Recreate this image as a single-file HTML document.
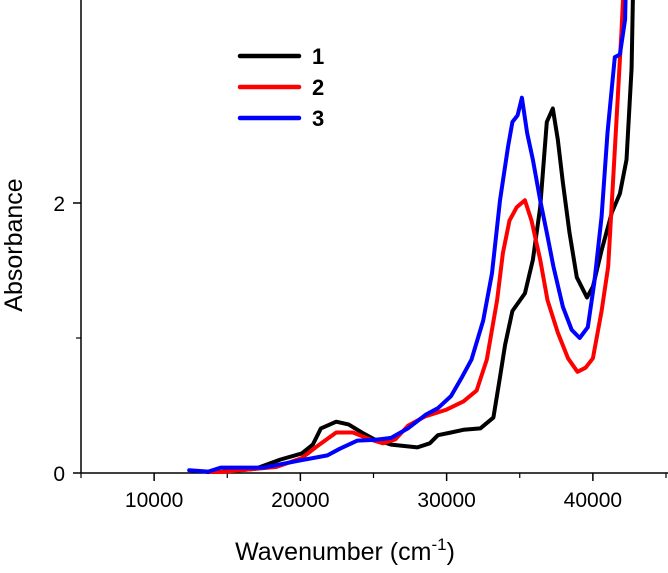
<!DOCTYPE html>
<html>
<head>
<meta charset="utf-8">
<style>
  html,body{margin:0;padding:0;background:#fff;}
  svg{display:block;font-family:"Liberation Sans",Arial,sans-serif;}
</style>
</head>
<body>
<svg id="chart" width="668" height="573" viewBox="0 0 668 573">
  <defs><clipPath id="plotclip"><rect x="81" y="0" width="587" height="474"/></clipPath></defs>
  <g id="axes"></g>
  <g id="series" clip-path="url(#plotclip)"></g>
  <g id="legend"></g>
  <text x="22" y="245" font-size="25" text-anchor="middle" transform="rotate(-90 22 245)">Absorbance</text>
  <text x="345" y="560" font-size="25" text-anchor="middle">Wavenumber (cm<tspan dy="-10" font-size="17">-1</tspan><tspan dy="10">)</tspan></text>
</svg>
<script>
const xTicks = [10000, 20000, 30000, 40000];
const xMinor = [5000, 15000, 25000, 35000, 45000];
const yTicks = [0, 2];
const yMinor = [1];
const seriesNames = ["1", "2", "3"];
const seriesColors = ["#000000", "#ff0000", "#0000ff"];
const wn1 = [13700,16900,18650,20100,20850,21400,22450,23300,24200,25050,26200,28000,28850,29400,30300,31150,32300,33200,33650,34000,34500,35350,35900,36400,36850,37260,37600,37950,38400,38900,39600,40000,40600,41300,41850,42300,42650,42750];
const abs1 = [0,0.03,0.1,0.145,0.21,0.33,0.38,0.36,0.3,0.25,0.21,0.19,0.22,0.28,0.3,0.32,0.33,0.41,0.71,0.95,1.2,1.33,1.58,1.97,2.6,2.7,2.47,2.15,1.78,1.45,1.3,1.38,1.65,1.93,2.07,2.32,3.0,3.6];
const wn2 = [13900,18370,20100,21300,22450,23600,24750,25650,26500,27350,28550,30000,31150,32050,32750,33450,33850,34300,34800,35350,35800,36400,36900,37600,38300,38950,39500,40000,40600,41050,41500,41950,42100];
const abs2 = [0,0.045,0.11,0.21,0.3,0.3,0.25,0.22,0.25,0.35,0.42,0.47,0.53,0.61,0.84,1.28,1.63,1.87,1.97,2.02,1.87,1.58,1.28,1.04,0.85,0.75,0.78,0.85,1.2,1.53,2.39,3.26,3.6];
const wn3 = [12400,13700,14550,17500,19800,21850,22700,23900,25050,26200,27350,28550,29400,30300,31050,31700,32500,33100,33650,34200,34500,34850,35150,35500,35900,36400,36850,37300,37950,38550,39100,39650,40100,40600,41000,41500,41850,42200,42250];
const abs3 = [0.02,0.01,0.04,0.04,0.09,0.13,0.18,0.24,0.245,0.26,0.33,0.43,0.48,0.57,0.71,0.84,1.13,1.48,2.02,2.42,2.6,2.65,2.78,2.52,2.32,2.02,1.78,1.53,1.23,1.06,1.0,1.08,1.41,1.9,2.52,3.08,3.1,3.36,3.6];

const X = v => 81 + (v - 5000) * 0.014625;
const Y = v => 473 - v * 135;
const NS = "http://www.w3.org/2000/svg";
function mk(tag, attrs, parent) {
  const e = document.createElementNS(NS, tag);
  for (const k in attrs) e.setAttribute(k, attrs[k]);
  parent.appendChild(e);
  return e;
}
const axes = document.getElementById('axes');
let el = mk('line', {x1:81, y1:473, x2:668, y2:473, stroke:'#000', 'stroke-width':1.5}, axes);


el = mk('line', {x1:81, y1:0, x2:81, y2:473, stroke:'#000', 'stroke-width':1.5}, axes);


xTicks.forEach(t => {
  const tk = mk('line', {x1:X(t), y1:473, x2:X(t), y2:481, stroke:'#000', 'stroke-width':1.5}, axes);
  
  
  const lb = mk('text', {x:X(t), y:507, 'font-size':21, 'text-anchor':'middle'}, axes);
  lb.textContent = t;
  
  
});
xMinor.forEach(t => {
  const tk = mk('line', {x1:X(t), y1:473, x2:X(t), y2:478, stroke:'#000', 'stroke-width':1.2}, axes);
  
  
});
yTicks.forEach(t => {
  const tk = mk('line', {x1:73, y1:Y(t), x2:81, y2:Y(t), stroke:'#000', 'stroke-width':1.5}, axes);
  
  
  const lb = mk('text', {x:65, y:Y(t)+8, 'font-size':21, 'text-anchor':'end'}, axes);
  lb.textContent = t;
  
  
});
yMinor.forEach(t => {
  const tk = mk('line', {x1:76, y1:Y(t), x2:81, y2:Y(t), stroke:'#000', 'stroke-width':1.2}, axes);
  
  
});
const series = document.getElementById('series');
const allX = [wn1, wn2, wn3], allY = [abs1, abs2, abs3];
allX.forEach((xs, i) => {
  const d = xs.map((v, j) => (j ? 'L' : 'M') + X(v).toFixed(1) + ' ' + Y(allY[i][j]).toFixed(1)).join(' ');
  const p = mk('path', {d: d, fill:'none', stroke:seriesColors[i], 'stroke-width':4, 'stroke-linejoin':'round', 'stroke-linecap':'round'}, series);
  
  
});
const legend = document.getElementById('legend');
seriesNames.forEach((n, i) => {
  const y = 56 + i * 31;
  const ln = mk('line', {x1:240, y1:y, x2:299, y2:y, stroke:seriesColors[i], 'stroke-width':4.5, 'stroke-linecap':'round'}, legend);
  
  
  const t = mk('text', {x:312, y:y+8, 'font-size':22, 'font-weight':'bold'}, legend);
  t.textContent = n;
  
  
});
</script>
</body>
</html>
